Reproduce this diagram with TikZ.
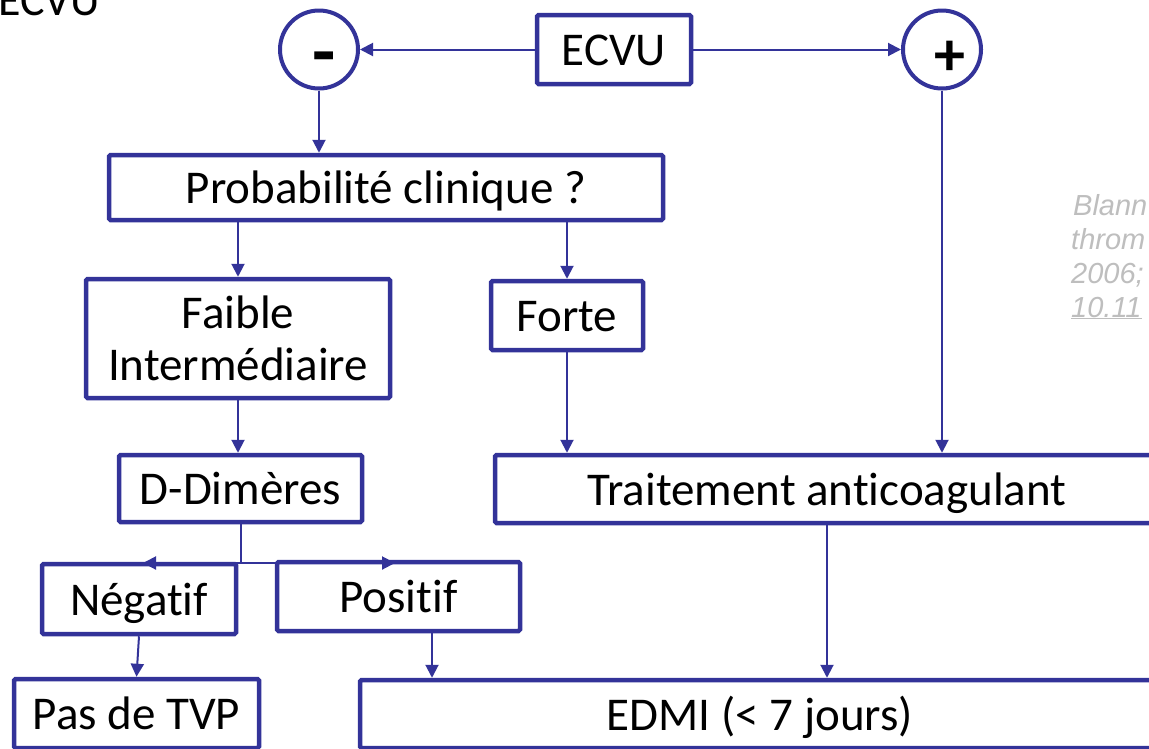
\documentclass[tikz,border=0pt]{standalone}
\usepackage{fontspec}
\setmainfont{Carlito}[Ligatures=NoCommon]
\newfontfamily\citefont{Liberation Sans}
\usetikzlibrary{arrows.meta}
\definecolor{flowblue}{RGB}{51,51,153}
\definecolor{citegray}{RGB}{190,190,190}
\begin{document}
\begin{tikzpicture}[x=1pt,y=-1pt,
  box/.style={draw=flowblue, line width=4.5pt, rounded corners=1.5pt, fill=white,
    inner sep=0pt, text height=32pt, text depth=0pt, font=\fontsize{47}{52}\selectfont},
  sign/.style={draw=flowblue, circle, line width=4pt, minimum size=78pt, inner sep=0pt, fill=white},
  signtext/.style={inner sep=0pt, anchor=base, font=\fontsize{62}{62}\selectfont\bfseries},
  link/.style={draw=flowblue, line width=2pt, -{Triangle[length=13pt,width=13pt]}},
  plain/.style={draw=flowblue, line width=2pt},
  cite/.style={anchor=base west, inner sep=0pt, text=citegray,
    font=\citefont\itshape\fontsize{29}{34}\selectfont}]
\useasboundingbox (0,0) rectangle (1149,748);
\clip (0,0) rectangle (1149,748);
\fill[white] (0,0) rectangle (1149,748);

% title fragment in the upper left corner
\node[anchor=base west, inner sep=0pt, font=\fontsize{46}{52}\selectfont] (title) at (-2,15) {ECVU};

% decision circles and boxes
\node[sign] (minus) at (319,49.5) {};
\node[sign] (plus) at (942,49.5) {};
\node[signtext, font=\fontsize{76}{76}\selectfont\bfseries] (minustext) at (324,77) {-};
\node[signtext] (plustext) at (950,75) {+};

\node[box, minimum width=154pt, minimum height=69pt] (ecvu) at (614,49.5) {ECVU};
\node[box, minimum width=554pt, minimum height=65pt] (prob) at (386,187.5) {Probabilité clinique ?};
\node[box, minimum width=304pt, minimum height=119pt, align=center, text height=83pt]
  (faible) at (238,338.5) {Faible\\Intermédiaire};
\node[box, minimum width=152pt, minimum height=69pt] (forte) at (567,315.5) {Forte};
\node[box, minimum width=243pt, minimum height=67pt] (dd) at (240.5,488.5) {D-Dimères};
\node[box, minimum width=664pt, minimum height=68pt] (trait) at (827,489) {Traitement anticoagulant};
\node[box, minimum width=194pt, minimum height=70pt] (neg) at (139,599) {Négatif};
\node[box, minimum width=243pt, minimum height=69pt] (pos) at (398.5,596.5) {Positif};
\node[box, minimum width=245pt, minimum height=69pt] (pas) at (136.5,713.5) {Pas de TVP};
\node[box, minimum width=800pt, minimum height=68pt] (edmi) at (760,714) {EDMI (< 7 jours)};

% reference in the right margin
\node[cite] (cite1) at (1073,215) {Blann};
\node[cite] (cite2) at (1071,249) {throm};
\node[cite] (cite3) at (1071,283) {2006;};
\node[cite] (cite4) at (1071,317) {\underline{10.11}};

% connectors
\draw[link] (ecvu.west) -- (minus.east);
\draw[link] (ecvu.east) -- (plus.west);
\draw[link] (minus.south) -- (minus.south |- prob.north);
\draw[link] (faible.north |- prob.south) -- (faible.north);
\draw[link] (forte.north |- prob.south) -- (forte.north);
\draw[link] (faible.south) -- (faible.south |- dd.north);
\draw[link] (forte.south) -- (forte.south |- trait.north);
\draw[link] (plus.south) -- (plus.south |- trait.north);
\draw[link] (trait.south) -- (trait.south |- edmi.north);

\coordinate (junc) at (240.5,563);
\coordinate (negtip) at (143,563);
\coordinate (postip) at (395,563);
\draw[plain] (dd.south) -- (junc);
\draw[link] (junc) -- (negtip);
\draw[link] (junc) -- (postip);

\draw[link] (neg.south) -- (pas.north);
\draw[link] ([xshift=33.5pt]pos.south) -- ([xshift=33.5pt]pos.south |- edmi.north);
\end{tikzpicture}
\end{document}
